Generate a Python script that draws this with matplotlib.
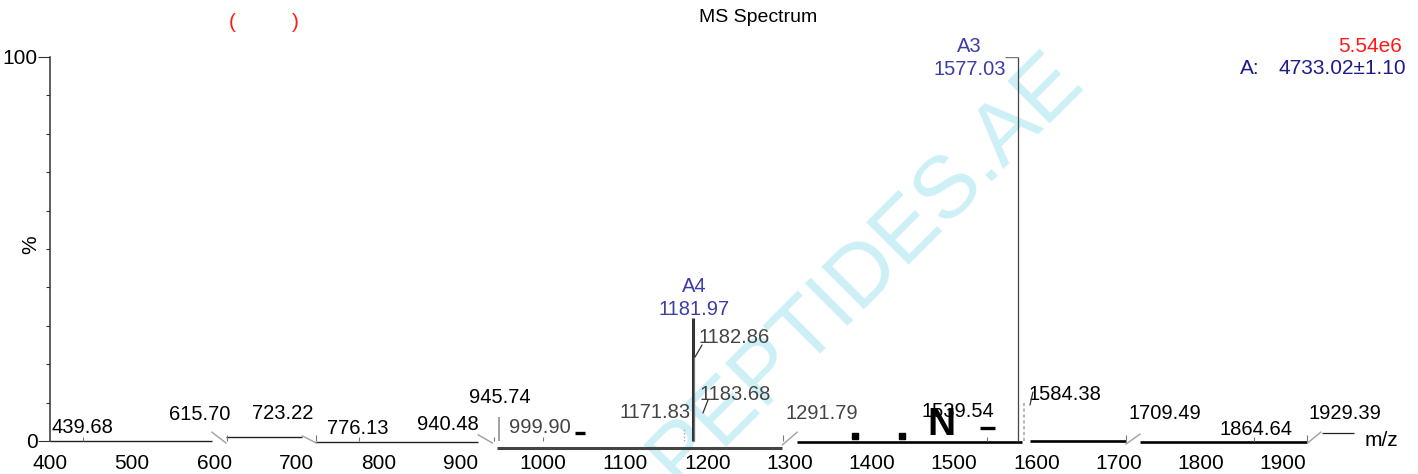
import matplotlib
matplotlib.use('Agg')
import matplotlib.pyplot as plt
from matplotlib.transforms import offset_copy

plt.rcParams['font.family'] = ['Liberation Sans', 'DejaVu Sans']

# ---------------- data ----------------
peak_mz = [439.68, 615.70, 723.22, 776.13, 940.48, 945.74, 999.90, 1171.83,
           1181.97, 1182.86, 1183.68, 1291.79, 1539.54, 1577.03, 1584.38,
           1709.49, 1864.64, 1929.39]
peak_int = [1.0, 1.5, 1.5, 1.0, 1.0, 6.3, 1.0, 3.0,
            32.0, 22.0, 7.3, 1.5, 1.0, 100.0, 10.0,
            1.5, 1.0, 1.5]
peak_labels = ['439.68', '615.70', '723.22', '776.13', '940.48', '945.74',
               '999.90', '1171.83', '1181.97', '1182.86', '1183.68', '1291.79',
               '1539.54', '1577.03', '1584.38', '1709.49', '1864.64', '1929.39']
ion_names = {'1181.97': 'A4', '1577.03': 'A3'}

# baseline trace pieces (m/z start, m/z end, level %)
base_start = [400, 614, 722, 944, 1309, 1592, 1726, 1947]
base_end = [597, 707, 921, 1290, 1582, 1709, 1929, 1986]
base_level = [0.0, 1.0, -0.2, -1.7, -0.3, -0.1, -0.3, 2.2]

# axis-break marks (m/z, level) -> (m/z, level)
brk_x0 = [597, 707, 921, 1291, 1709, 1930]
brk_y0 = [2.3, 1.3, 1.6, -1.0, -0.8, -0.5]
brk_x1 = [614, 724, 938, 1309, 1726, 1946]
brk_y1 = [-0.5, -0.5, -0.5, 2.3, 1.8, 2.3]

# small artifacts in the trace
dash_x0 = [1039, 1531]
dash_x1 = [1051, 1550]
dash_y = [2.1, 3.4]
square_mz = [1379, 1437]
square_y = [1.3, 1.3]
artifact_text_mz = 1484
artifact_text_y = 4.2

x_ticks = [400, 500, 600, 700, 800, 900, 1000, 1100, 1200, 1300, 1400, 1500,
           1600, 1700, 1800, 1900]
y_major = [0, 100]
y_minor = [10, 20, 30, 40, 50, 60, 70, 80, 90]

title = 'MS Spectrum'
intensity_text = '5.54e6'
mass_name = 'A:'
mass_text = '4733.02\u00b11.10'

# ---------------- layout / style ----------------
W, H = 1418, 474
fig = plt.figure(figsize=(W / 100, H / 100), dpi=100)
fig.patch.set_facecolor('white')
ax = fig.add_axes([50 / W, 0.04532, 1307 / W, 0.83443])
ax.set_xlim(400, 1990)
ax.set_ylim(-3, 100)
ax.patch.set_alpha(0)

blue = '#3d3da6'
navy = '#1c1c8c'
red = '#ff1a1a'
fs_lab = 14.5

# watermark
fig.text(866 / W, 1 - 268 / H, 'PEPTIDES.AE', rotation=45, ha='center',
         va='center', fontsize=63, color='#cdf0f7', zorder=-5)

for s in ['top', 'right', 'bottom']:
    ax.spines[s].set_visible(False)
ax.spines['left'].set_bounds(0, 100)
ax.spines['left'].set_color('#333333')
ax.spines['left'].set_linewidth(1.1)

ax.set_yticks(y_major)
ax.set_yticklabels([str(v) for v in y_major])
ax.set_yticks(y_minor, minor=True)
ax.tick_params(axis='y', which='major', length=9, width=0.8, color='#333333',
               pad=0, labelsize=15)
ax.tick_params(axis='y', which='minor', length=3.2, width=0.8, color='#333333')
ax.set_xticks(x_ticks)
ax.set_xticklabels([str(v) for v in x_ticks])
ax.tick_params(axis='x', which='both', length=0, pad=1.0, labelsize=15)

# baseline pieces
base_lw = [1.0, 1.0, 1.0, 2.2, 1.9, 1.9, 1.9, 0.9]
base_col = ['#222222', '#222222', '#222222', '#444444', '#000000', '#000000',
            '#000000', '#222222']
for x0, x1, yv, lw, c in zip(base_start, base_end, base_level, base_lw, base_col):
    ax.plot([x0, x1], [yv, yv], color=c, lw=lw, solid_capstyle='butt', zorder=2)
for x0, y0, x1, y1 in zip(brk_x0, brk_y0, brk_x1, brk_y1):
    ax.plot([x0, x1], [y0, y1], color='#a0a0a0', lw=1.0, zorder=2)

# artifacts
for x0, x1, yv in zip(dash_x0, dash_x1, dash_y):
    ax.plot([x0, x1], [yv, yv], color='black', lw=2.4, solid_capstyle='butt', zorder=3)
ax.scatter(square_mz, square_y, marker='s', s=14, color='black', zorder=3)
ax.text(artifact_text_mz, artifact_text_y, 'N', fontsize=28, fontweight='bold',
        ha='center', va='center', color='black', zorder=3)

# peaks
style = {
    '1181.97': dict(color='#333333', lw=2.2, ls='-'),
    '1577.03': dict(color='#444444', lw=0.9, ls='-'),
    '945.74': dict(color='#999999', lw=1.3, ls='-'),
    '1584.38': dict(color='#aaaaaa', lw=1.2, ls=(0, (2, 1.5))),
    '1171.83': dict(color='#aaaaaa', lw=1.0, ls=(0, (1, 1.5))),
}
for mz, it, lab in zip(peak_mz, peak_int, peak_labels):
    st = style.get(lab, dict(color='#777777', lw=0.8, ls='-'))
    ax.vlines(mz, 0, it, colors=st['color'], lw=st['lw'], linestyles=st['ls'], zorder=4)
    if lab == '1577.03':
        ax.hlines(it, mz - 15, mz, colors='#777777', lw=1.0, zorder=4)

# label placement (pixel offsets from peak tops)
label_off = {
    '439.68': (-0.6, 9.2, 'center', 'k'),
    '615.70': (-27.3, 21.2, 'center', 'k'),
    '723.22': (-32.7, 22.2, 'center', 'k'),
    '776.13': (-1.2, 8.2, 'center', 'k'),
    '940.48': (-46.3, 12.2, 'center', 'k'),
    '945.74': (1.4, 19.8, 'center', 'k'),
    '999.90': (-3.1, 9.2, 'center', '#444444'),
    '1171.83': (-29.4, 16.5, 'center', '#444444'),
    '1182.86': (4.5, 19.5, 'left', '#444444'),
    '1183.68': (5.8, 18.0, 'left', '#444444'),
    '1291.79': (38.9, 22.2, 'center', '#444444'),
    '1539.54': (-28.7, 25.2, 'center', 'k'),
    '1584.38': (4.5, 7.6, 'left', 'k'),
    '1709.49': (38.6, 22.2, 'center', 'k'),
    '1864.64': (2.1, 7.2, 'center', 'k'),
    '1929.39': (37.9, 22.2, 'center', 'k'),
}
ion_off = {
    '1181.97': ((1.2, 9.1, 'center'), (1.2, 32.1, 'center')),
    '1577.03': ((-11.5, -13.0, 'right'), (-48.5, 10.0, 'center')),
}
for mz, it, lab in zip(peak_mz, peak_int, peak_labels):
    if lab in ion_off:
        (dx, dy, ha), (ndx, ndy, nha) = ion_off[lab]
        ax.annotate(lab, xy=(mz, it), xytext=(dx, dy), textcoords='offset pixels',
                    ha=ha, va='center', fontsize=fs_lab, color=blue, zorder=5)
        ax.annotate(ion_names[lab], xy=(mz, it), xytext=(ndx, ndy),
                    textcoords='offset pixels', ha=nha, va='center',
                    fontsize=fs_lab, color=blue, zorder=5)
    else:
        dx, dy, ha, c = label_off[lab]
        ax.annotate(lab, xy=(mz, it), xytext=(dx, dy), textcoords='offset pixels',
                    ha=ha, va='center', fontsize=fs_lab, color=c, zorder=5)

# leader lines (pixel offsets from peak top: start, end)
leaders = {
    '1182.86': ((1.5, -0.5), (8.5, 11.5)),
    '1183.68': ((8.8, 0.0), (13.8, 13.0)),
    '1584.38': ((6.4, -2.4), (9.4, 10.6)),
}
for mz, it, lab in zip(peak_mz, peak_int, peak_labels):
    if lab in leaders:
        (a, b), (c, d) = leaders[lab]
        tr = offset_copy(ax.transData, fig=fig, x=a, y=b, units='dots')
        ax.annotate('', xy=(mz, it), xycoords=tr, xytext=(c - a, d - b),
                    textcoords='offset pixels',
                    arrowprops=dict(arrowstyle='-', color='#333333', lw=0.9,
                                    shrinkA=0, shrinkB=0), zorder=5)

# figure texts
fig.text(31 / W, 1 - 245 / H, '%', rotation=90, ha='center', va='center', fontsize=15)
fig.text(1381 / W, 1 - 440 / H, 'm/z', ha='center', va='center', fontsize=15)
fig.text(758 / W, 1 - 18 / H, title, ha='center', va='center', fontsize=14)
fig.text(232 / W, 1 - 22 / H, '(', ha='center', va='center', fontsize=15, color=red)
fig.text(295 / W, 1 - 22 / H, ')', ha='center', va='center', fontsize=15, color=red)
fig.text(1402 / W, 1 - 47 / H, intensity_text, ha='right', va='center',
         fontsize=15, color=red)
fig.text(1240 / W, 1 - 68 / H, mass_name, ha='left', va='center', fontsize=15, color=navy)
fig.text(1406 / W, 1 - 68 / H, mass_text, ha='right', va='center', fontsize=15, color=navy)

fig.savefig('out.png', dpi=100)
